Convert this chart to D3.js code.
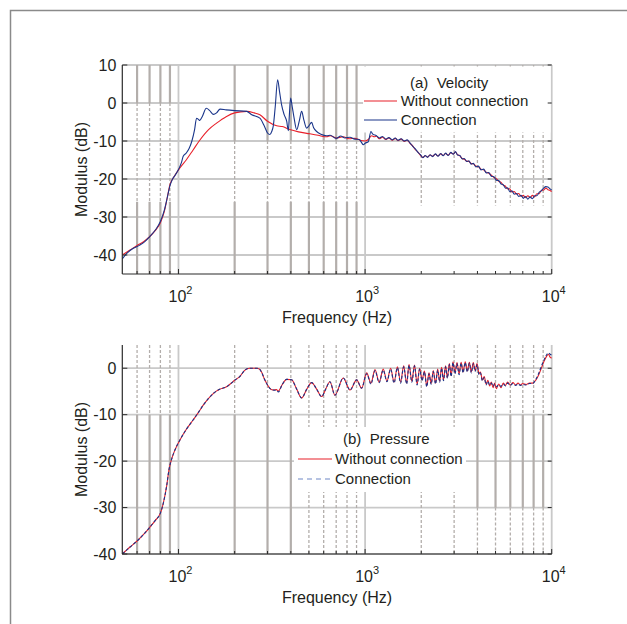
<!DOCTYPE html>
<html>
<head>
<meta charset="utf-8">
<script src="https://cdn.jsdelivr.net/npm/d3@7"></script>
<style>
body { margin: 0; background: #fff; }
svg { display: block; font-family: "Liberation Sans", Arial, sans-serif; }
</style>
</head>
<body>
<svg id="chart" width="627" height="624"></svg>
<script>
// ---- data (frequency Hz, modulus dB) ----
var velocityWithout = [
	[50,-40],[55,-38.7],[60,-37.5],[65,-36.5],[70,-35.2],[75,-33.6],[80,-31.5],[84,-28.5],[87,-25],[90,-21.5],
	[95,-19.3],[102,-17],[110,-15],[120,-12.3],[130,-9.8],[145,-7],[160,-5.3],[180,-3.6],[200,-2.6],[232,-2.2],
	[255,-2.6],[273,-3.1],[300,-4.8],[336,-6],[360,-6.2],[395,-7],[440,-7.6],[506,-8.1],[560,-8.5],[622,-8.9],
	[650,-8.6],[700,-9.2],[763,-8.9],[820,-9.4],[880,-9.3],[940,-9.8],[1000,-10],[1040,-9.6],[1084,-8.6],[1120,-8.9],
	[1150,-8.7],[1190,-9.4],[1240,-9.0],[1290,-9.6],[1340,-9.2],[1400,-9.8],[1450,-9.3],[1500,-9.9],[1560,-9.5],[1620,-10.1],
	[1680,-9.8],[1740,-10.6],[1800,-11.3],[1860,-12.3],[1920,-12.9],[1980,-13.8],[2040,-14.3],[2100,-13.9],[2160,-14.2],[2230,-13.7],
	[2300,-14.0],[2380,-13.5],[2460,-13.9],[2540,-13.4],[2620,-13.8],[2700,-13.3],[2790,-13.7],[2880,-13.1],[2970,-13.4],[3050,-12.9],
	[3130,-13.6],[3220,-13.9],[3310,-14.6],[3400,-14.8],[3500,-15.3],[3600,-15.4],[3700,-15.9],[3800,-16.0],[3920,-16.6],[4050,-16.8],
	[4180,-17.4],[4320,-17.6],[4460,-18.2],[4600,-18.5],[4750,-19.0],[4900,-19.6],[5050,-19.9],[5200,-20.6],[5350,-20.9],[5500,-21.6],
	[5650,-21.9],[5800,-22.6],[5960,-22.6],[6120,-23.4],[6300,-23.3],[6480,-24.0],[6660,-23.8],[6850,-24.6],[7040,-24.3],[7240,-24.9],
	[7450,-24.4],[7660,-24.9],[7880,-24.3],[8100,-24.7],[8330,-23.9],[8560,-23.9],[8800,-23.0],[9050,-22.9],[9300,-22.4],[9550,-22.8],
	[9800,-23.0],[10000,-23.3]
];
var velocityConnection = [
	[50,-41],[53,-39.5],[57,-38.3],[62,-37.4],[66,-36.5],[70,-35.2],[75,-33.5],[80,-31.2],[84,-28.2],[87,-25],
	[90,-21.8],[93,-20],[96,-19],[100,-17.5],[104,-15.5],[106,-14],[110,-13.2],[114,-12],[118,-10],[122,-7],
	[125,-4],[128,-4.3],[130,-4.6],[134,-3.6],[141,-1.4],[147,-2],[154,-3],[160,-2.6],[167,-1.6],[180,-1.8],
	[200,-2],[232,-2.2],[247,-3.1],[273,-4],[288,-6],[300,-7.9],[309,-8.3],[316,-7.5],[322,-6.1],[330,-1],
	[340,6.1],[348,3],[357,-0.5],[368,-3],[380,-4.8],[388,-7.3],[393,-3],[399,1.3],[407,-1],[415,-3.5],
	[430,-7],[445,-4.5],[457,-2.2],[470,-4.5],[486,-6.6],[500,-6],[517,-5.1],[530,-6.5],[550,-7.5],[580,-8.2],
	[622,-8.6],[650,-8.5],[700,-9.3],[740,-8.7],[780,-9.2],[830,-9.0],[880,-9.5],[930,-9.6],[980,-11],[1000,-10.6],
	[1040,-10.2],[1075,-7.5],[1100,-8.2],[1150,-8.6],[1190,-9.2],[1240,-8.8],[1290,-9.5],[1340,-9.1],[1400,-9.7],[1450,-9.2],
	[1500,-9.8],[1560,-9.4],[1620,-10.0],[1680,-9.7],[1740,-10.5],[1800,-11.4],[1860,-12.1],[1920,-13.0],[1980,-13.6],[2040,-14.4],
	[2100,-13.8],[2160,-14.3],[2230,-13.6],[2300,-14.1],[2380,-13.4],[2460,-14.0],[2540,-13.3],[2620,-13.9],[2700,-13.2],[2790,-13.8],
	[2880,-13.0],[2970,-13.5],[3050,-12.8],[3130,-13.7],[3220,-13.8],[3310,-14.7],[3400,-14.6],[3500,-15.4],[3600,-15.2],[3700,-16.1],
	[3800,-15.9],[3920,-16.8],[4050,-16.6],[4180,-17.6],[4320,-17.4],[4460,-18.4],[4600,-18.3],[4750,-19.3],[4900,-19.4],[5050,-20.3],
	[5200,-20.4],[5350,-21.3],[5500,-21.5],[5650,-22.4],[5800,-22.3],[5960,-23.3],[6120,-23.1],[6300,-24.0],[6480,-23.8],[6660,-24.6],
	[6850,-24.3],[7040,-25.1],[7240,-24.6],[7450,-25.3],[7660,-24.7],[7880,-25.2],[8100,-24.4],[8330,-24.4],[8560,-23.5],[8800,-23.1],
	[9050,-22.4],[9300,-22.0],[9550,-22.1],[9800,-22.6],[10000,-22.9]
];
var pressureWithout = [
	[50,-40],[55,-38.5],[60,-37.2],[65,-35.8],[70,-34.3],[75,-32.8],[80,-31.2],[83,-29],[86.4,-25.4],[89,-21.8],
	[92,-19.5],[96,-17.5],[102,-15.4],[110,-13.2],[120,-11.1],[128,-9.5],[136,-7.9],[145,-6.5],[154,-5.4],[165,-4.6],
	[181,-4],[192,-3.2],[200,-2.6],[213,-1.8],[227,-0.4],[240,0],[262,0],[272,-0.2],[280,-1],[290,-2.5],
	[300,-3.6],[312,-4.5],[322,-4.7],[335,-4.6],[343,-4.9],[360,-3.5],[380,-2.4],[404,-2.5],[430,-4.5],[457,-6.4],
	[487,-4.5],[517,-3.1],[550,-4.5],[585,-6.1],[615,-4.5],[648,-2.9],[689,-5.8],[764,-2.1],[830,-4.7],[901,-2.5],
	[958,-4.3],[1020,-1],[1075,-3.2],[1130,-0.3],[1190,-3],[1250,-0.2],[1310,-2.8],[1370,0],[1430,-3],[1490,0.3],
	[1550,-3],[1610,0.5],[1670,-3.2],[1720,0.8],[1780,-2.8],[1840,0.7],[1900,-3.4],[1960,0],[2020,-2.5],[2080,-0.6],
	[2140,-3.8],[2200,-1],[2260,-3.3],[2320,-0.5],[2385,-3.2],[2450,-0.2],[2510,-2.8],[2570,0.2],[2630,-2.5],[2700,0.5],
	[2760,-2],[2830,1],[2890,-1.6],[2960,1.4],[3030,-1],[3110,1.2],[3190,-1.2],[3270,1.3],[3350,-0.8],[3440,1.4],
	[3530,-0.6],[3620,1.3],[3710,-0.8],[3800,1.2],[3890,-0.5],[3980,1],[4080,-1.2],[4150,-0.8],[4250,-2.5],[4350,-1.8],
	[4450,-3.4],[4550,-2.6],[4650,-3.8],[4750,-3],[4850,-4.2],[4950,-3.2],[5050,-4.4],[5200,-3.4],[5350,-4.2],[5500,-3.2],
	[5650,-3.7],[5800,-3],[6000,-3.6],[6200,-3.1],[6400,-3.6],[6600,-3.2],[6800,-3.6],[7000,-3.3],[7300,-3.5],[7600,-3.2],
	[7900,-3.2],[8200,-2.6],[8500,-1.5],[8800,0],[9100,1.5],[9400,2.6],[9600,3],[9800,2.4],[10000,2.2]
];
var pressureConnection = [
	[50,-40],[55,-38.5],[60,-37.2],[65,-35.8],[70,-34.3],[75,-32.8],[80,-31.2],[83,-29],[86.4,-25.4],[89,-21.8],
	[92,-19.5],[96,-17.5],[102,-15.4],[110,-13.2],[120,-11.1],[128,-9.5],[136,-7.9],[145,-6.5],[154,-5.4],[165,-4.6],
	[181,-4],[192,-3.2],[200,-2.6],[213,-1.8],[227,-0.4],[240,0],[262,0],[272,-0.2],[280,-1],[290,-2.5],
	[300,-3.6],[312,-4.5],[322,-4.7],[335,-4.8],[343,-5.1],[360,-3.5],[380,-2.4],[404,-2.5],[430,-4.5],[457,-6.4],
	[487,-4.5],[517,-3.1],[550,-4.5],[585,-6.1],[615,-4.5],[648,-2.9],[689,-5.8],[764,-2.1],[830,-4.7],[901,-2.5],
	[958,-4.3],[1020,-1.2],[1075,-3.4],[1130,-0.5],[1190,-3.1],[1250,-0.4],[1310,-2.9],[1370,-0.2],[1430,-3.2],[1490,0.1],
	[1550,-3.2],[1610,0.3],[1670,-3.4],[1720,0.6],[1780,-3],[1840,0.5],[1900,-3.6],[1960,-0.2],[2020,-2.7],[2080,-0.8],
	[2140,-4],[2200,-1.2],[2260,-3.5],[2320,-0.7],[2385,-3.4],[2450,-0.4],[2510,-3],[2570,0],[2630,-2.7],[2700,0.3],
	[2760,-2.2],[2830,0.8],[2890,-1.8],[2960,1.2],[3030,-1.2],[3110,1],[3190,-1.4],[3270,1.1],[3350,-1],[3440,1.2],
	[3530,-0.8],[3620,1.1],[3710,-1],[3800,1],[3890,-0.7],[3980,0.8],[4080,-1.4],[4150,-1],[4250,-2.7],[4350,-2],
	[4450,-3.6],[4550,-2.8],[4650,-3.6],[4750,-3.2],[4850,-3.9],[4950,-3.4],[5050,-4],[5200,-3.6],[5350,-3.9],[5500,-3.4],
	[5650,-3.8],[5800,-3.2],[6000,-3.7],[6200,-3.3],[6400,-3.7],[6600,-3.4],[6800,-3.7],[7000,-3.5],[7300,-3.6],[7600,-3.3],
	[7900,-3.3],[8200,-2.5],[8500,-1.2],[8800,0.4],[9100,1.8],[9400,2.9],[9600,3.3],[9800,3],[10000,2.8]
];
var xDecades = [100, 1000, 10000];
var velocityTicks = [-40, -30, -20, -10, 0, 10];
var pressureTicks = [-40, -30, -20, -10, 0];
var legendLabels = ["Without connection", "Connection"];

// ---- layout ----
var PLOT_L = 122.3, PLOT_R = 551.7;
var RED = "#e8202a", BLUE = "#1a358a", TEXT = "#231f20";
var GRID_LIGHT = "#c9c9c9", GRID_DARK = "#b3aeab";

var svg = d3.select("#chart");

svg.append("rect")
	.attr("x", 10.5).attr("y", 10.5).attr("width", 700).attr("height", 700)
	.style("fill", "none").style("stroke", "#8a8a8a").style("stroke-width", 1.5);

var x = d3.scaleLog().domain([50, 10000]).range([PLOT_L, PLOT_R]);

// minor frequencies (2..9 x decade) inside the domain
var minorFreqs = [];
[10, 100, 1000].forEach(function(d) {
	for (var k = 2; k <= 9; k++) {
		var f = d * k;
		if (f > 50 && f < 10000) minorFreqs.push(f);
	}
});

function drawPanel(opt)
{
	var y = d3.scaleLinear().domain(opt.domain).range([opt.bottom, opt.top]);
	var g = svg.append("g");

	// horizontal grid
	g.selectAll("line.hgrid").data(opt.ticks).enter().append("line")
		.attr("x1", PLOT_L).attr("x2", PLOT_R)
		.attr("y1", function(d) { return y(d); }).attr("y2", function(d) { return y(d); })
		.style("stroke", GRID_LIGHT).style("stroke-width", 1.8);

	// minor vertical grid, drawn in bands (solid or dashed) as in the figure
	opt.gridBands.forEach(function(b) {
		g.selectAll(null).data(minorFreqs.filter(function(f) { return f > b.f0 && f < b.f1; })).enter().append("line")
			.attr("x1", function(d) { return x(d); }).attr("x2", function(d) { return x(d); })
			.attr("y1", y(b.y0)).attr("y2", y(b.y1))
			.style("stroke", GRID_DARK)
			.style("stroke-width", b.dash ? 1.3 : 2.2)
			.style("stroke-dasharray", b.dash ? "3,2" : null);
	});

	// major vertical grid
	g.selectAll("line.vmajor").data(xDecades).enter().append("line")
		.attr("x1", function(d) { return x(d); }).attr("x2", function(d) { return x(d); })
		.attr("y1", opt.top).attr("y2", opt.bottom)
		.style("stroke", GRID_LIGHT).style("stroke-width", 1.8);

	// legend background hides grid
	g.append("rect")
		.attr("x", opt.legend.x).attr("y", opt.legend.y)
		.attr("width", opt.legend.w).attr("height", opt.legend.h)
		.style("fill", "#fff");

	// curves
	var line = d3.line()
		.x(function(d) { return x(d[0]); })
		.y(function(d) { return y(d[1]); })
		.curve(d3.curveMonotoneX);

	opt.series.forEach(function(s) {
		g.append("path").datum(s.data)
			.attr("d", line)
			.style("fill", "none")
			.style("stroke", s.color)
			.style("stroke-width", s.width)
			.style("stroke-dasharray", s.dash || null)
			.style("stroke-linejoin", "round");
	});

	// axes
	g.append("line").attr("x1", PLOT_L).attr("x2", PLOT_L).attr("y1", opt.top).attr("y2", opt.bottom)
		.style("stroke", "#2b2b2b").style("stroke-width", 1.2);
	g.append("line").attr("x1", PLOT_L).attr("x2", PLOT_R).attr("y1", opt.bottom).attr("y2", opt.bottom)
		.style("stroke", "#2b2b2b").style("stroke-width", 1.2);

	// y ticks (inside, left and right)
	opt.ticks.forEach(function(t) {
		g.append("line").attr("x1", PLOT_L).attr("x2", PLOT_L + 5).attr("y1", y(t)).attr("y2", y(t))
			.style("stroke", "#2b2b2b").style("stroke-width", 1);
		g.append("line").attr("x1", PLOT_R - 4).attr("x2", PLOT_R).attr("y1", y(t)).attr("y2", y(t))
			.style("stroke", "#2b2b2b").style("stroke-width", 1);
		g.append("text")
			.attr("x", PLOT_L - 6).attr("y", y(t)).attr("dy", "0.36em")
			.attr("text-anchor", "end")
			.style("font-size", "16px").style("fill", TEXT)
			.text(t);
	});

	// x ticks
	minorFreqs.forEach(function(f) {
		g.append("line").attr("x1", x(f)).attr("x2", x(f)).attr("y1", opt.bottom).attr("y2", opt.bottom - 3)
			.style("stroke", "#2b2b2b").style("stroke-width", 1);
	});
	xDecades.forEach(function(f) {
		g.append("line").attr("x1", x(f)).attr("x2", x(f)).attr("y1", opt.bottom).attr("y2", opt.bottom - 5)
			.style("stroke", "#2b2b2b").style("stroke-width", 1);
		var t = g.append("text")
			.attr("x", x(f) + 2).attr("y", opt.bottom + 28)
			.attr("text-anchor", "middle")
			.style("font-size", "16px").style("fill", TEXT);
		t.append("tspan").text("10");
		t.append("tspan").attr("dy", -8).style("font-size", "11px").text(Math.round(Math.log10(f)));
	});

	// axis titles
	g.append("text")
		.attr("x", (PLOT_L + PLOT_R) / 2).attr("y", opt.bottom + 49)
		.attr("text-anchor", "middle")
		.style("font-size", "16px").style("fill", TEXT)
		.text("Frequency (Hz)");
	g.append("text")
		.attr("transform", "translate(87," + ((opt.top + opt.bottom) / 2) + ") rotate(-90)")
		.attr("text-anchor", "middle")
		.style("font-size", "16px").style("fill", TEXT)
		.text("Modulus (dB)");

	// legend
	var L = opt.legendItems;
	g.append("text")
		.attr("x", L.titleX).attr("y", L.titleY).attr("dy", "0.35em")
		.style("font-size", "15px").style("fill", TEXT)
		.style("white-space", "pre")
		.text(L.title);
	opt.series.forEach(function(s, i) {
		var yy = L.rowY[i];
		g.append("line")
			.attr("x1", L.lineX0).attr("x2", L.lineX1).attr("y1", yy).attr("y2", yy)
			.style("stroke", s.legendColor || s.color)
			.style("stroke-width", 1.2)
			.style("stroke-dasharray", s.legendDash || null);
		g.append("text")
			.attr("x", L.textX).attr("y", yy).attr("dy", "0.35em")
			.style("font-size", "15px").style("fill", TEXT)
			.text(legendLabels[i]);
	});
}

drawPanel({
	top: 65, bottom: 274, domain: [-45, 10], ticks: velocityTicks,
	gridBands: [
		{ f0: 50, f1: 100, y0: 10, y1: 0 },
		{ f0: 50, f1: 100, y0: 0, y1: -26, dash: true },
		{ f0: 50, f1: 100, y0: -26, y1: -45 },
		{ f0: 100, f1: 1000, y0: 10, y1: -10 },
		{ f0: 100, f1: 1000, y0: -10, y1: -26, dash: true },
		{ f0: 100, f1: 1000, y0: -26, y1: -45 },
		{ f0: 1000, f1: 10000, y0: 10, y1: -27, dash: true }
	],
	legend: { x: 363, y: 66.5, w: 187.5, h: 66 },
	series: [
		{ data: velocityWithout, color: RED, width: 1.1 },
		{ data: velocityConnection, color: BLUE, width: 1.1 }
	],
	legendItems: { title: "(a)  Velocity", titleX: 410, titleY: 83, rowY: [101, 120], lineX0: 364, lineX1: 397, textX: 400.7 }
});

drawPanel({
	top: 345, bottom: 554, domain: [-40, 5], ticks: pressureTicks,
	gridBands: [
		{ f0: 50, f1: 450, y0: 5, y1: -10, dash: true },
		{ f0: 50, f1: 450, y0: -10, y1: -40 },
		{ f0: 450, f1: 3500, y0: 5, y1: -40, dash: true },
		{ f0: 3500, f1: 10000, y0: 5, y1: -10, dash: true },
		{ f0: 3500, f1: 10000, y0: -10, y1: -30 },
		{ f0: 3500, f1: 10000, y0: -30, y1: -40, dash: true }
	],
	legend: { x: 294, y: 427, w: 172, h: 65 },
	series: [
		{ data: pressureWithout, color: RED, width: 1.1 },
		{ data: pressureConnection, color: BLUE, width: 1.1, dash: "3,2", legendColor: "#6f87c6", legendDash: "5,4" }
	],
	legendItems: { title: "(b)  Pressure", titleX: 343, titleY: 439, rowY: [459, 479], lineX0: 298, lineX1: 332, textX: 335 }
});
</script>
</body>
</html>
